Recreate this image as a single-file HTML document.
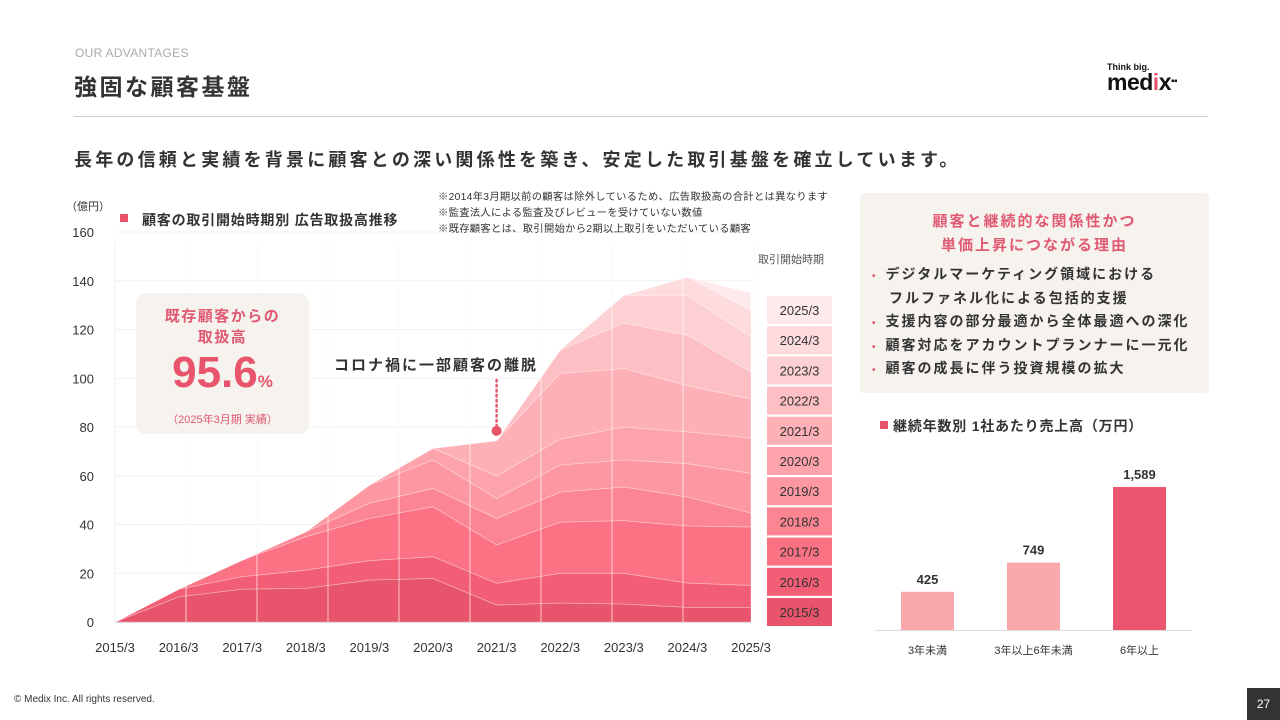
<!DOCTYPE html>
<html><head><meta charset="utf-8">
<style>
body{margin:0;width:1280px;height:720px;background:#fff;font-family:"Liberation Sans","Noto Sans CJK JP",sans-serif;overflow:hidden;position:relative;color:#333}
.a{position:absolute;white-space:nowrap}
.li{height:23.5px;line-height:23.5px}
</style></head><body>
<div class="a" style="left:75px;top:46px;font-size:12px;color:#aaa;letter-spacing:0.3px">OUR ADVANTAGES</div>
<div class="a" style="left:74px;top:68px;font-size:23px;font-weight:bold;letter-spacing:2.5px;color:#333">強固な顧客基盤</div>
<div class="a" style="left:1107px;top:62px;">
  <div style="font-size:9px;font-weight:bold;color:#111">Think big.</div>
  <div style="font-size:23px;font-weight:900;color:#111;line-height:20px;letter-spacing:-0.5px">med<span style="color:#e8546b">i</span>x<span style="font-size:10px;vertical-align:top">▪▪</span></div>
</div>
<div class="a" style="left:74px;top:116px;width:1134px;height:1px;background:#ccc"></div>
<div class="a" style="left:74px;top:146px;font-size:18px;font-weight:bold;letter-spacing:3.2px;color:#333">長年の信頼と実績を背景に顧客との深い関係性を築き、安定した取引基盤を確立しています。</div>

<svg class="a" style="left:0;top:0" width="1280" height="720" id="chart"></svg>

<div class="a" style="left:860px;top:193px;width:349px;height:200px;background:#f6f2ee;border-radius:4px"></div>
<div class="a" style="left:860px;top:210px;width:349px;text-align:center;font-size:15px;font-weight:bold;color:#e05a72;letter-spacing:2px;line-height:24px">顧客と継続的な関係性かつ<br>単価上昇につながる理由</div>
<div class="a" style="left:872px;top:263px;font-size:14px;font-weight:bold;color:#333;letter-spacing:2px">
<div class="li"><span style="color:#e05a72;font-size:10px;margin-right:8px">•</span>デジタルマーケティング領域における</div>
<div class="li" style="padding-left:17px">フルファネル化による包括的支援</div>
<div class="li"><span style="color:#e05a72;font-size:10px;margin-right:8px">•</span>支援内容の部分最適から全体最適への深化</div>
<div class="li"><span style="color:#e05a72;font-size:10px;margin-right:8px">•</span>顧客対応をアカウントプランナーに一元化</div>
<div class="li"><span style="color:#e05a72;font-size:10px;margin-right:8px">•</span>顧客の成長に伴う投資規模の拡大</div>
</div>

<div class="a" style="left:136px;top:293px;width:173px;height:141px;background:#f6f2ee;border-radius:10px;text-align:center">
 <div style="margin-top:13px;font-size:15px;font-weight:bold;color:#e05a72;letter-spacing:1.5px;line-height:21px">既存顧客からの<br>取扱高</div>
 <div style="font-size:44px;font-weight:bold;color:#e8546b;line-height:50px">95.6<span style="font-size:17px">%</span></div>
 <div style="font-size:11px;color:#e05a72;margin-top:4px">（2025年3月期 実績）</div>
</div>

<div class="a" style="left:14px;top:694px;font-size:10px;color:#333">© Medix Inc. All rights reserved.</div>
<div class="a" style="left:1247px;top:688px;width:33px;height:32px;background:#333;color:#fff;font-size:12px;text-align:center;line-height:32px">27</div>

<script>
const years=["2015/3","2016/3","2017/3","2018/3","2019/3","2020/3","2021/3","2022/3","2023/3","2024/3","2025/3"];
const yTicks=[0,20,40,60,80,100,120,140,160];
const c2015=[0,10.3,13.5,13.8,17.2,17.9,7,7.8,7.4,6,6];
const c2016=[0,3.2,5.1,7.5,8,8.9,8.9,12.2,12.6,10,9];
const c2017=[0,0,6.8,13.7,17.3,20.5,15.7,21,21.6,23.4,24];
const c2018=[0,0,0,2,6.2,7.5,10.9,12.3,13.8,11.9,5.7];
const c2019=[0,0,0,0,7.5,11.7,8.2,11.1,11.1,13.7,16.3];
const c2020=[0,0,0,0,0,4.8,9.2,10.6,13.5,13,14.5];
const c2021=[0,0,0,0,0,0,14.5,27,24,19,16];
const c2022=[0,0,0,0,0,0,0,9.6,18.6,20.7,11.1];
const c2023=[0,0,0,0,0,0,0,0,11.4,16.3,14.4];
const c2024=[0,0,0,0,0,0,0,0,0,7.5,11];
const c2025=[0,0,0,0,0,0,0,0,0,0,7];
const cohorts=[c2015,c2016,c2017,c2018,c2019,c2020,c2021,c2022,c2023,c2024,c2025];
const cohortColors=["#e8546b","#f25e76","#fa7283","#fc8593","#fd97a1","#fda3ab","#fdb1b7","#fdbfc3","#fdd0d3","#fedcde","#feeaeb"];
const barCats=["3年未満","3年以上6年未満","6年以上"];
const barVals=[425,749,1589];
const barLabels=["425","749","1,589"];

const NS="http://www.w3.org/2000/svg";
const svg=document.getElementById('chart');
function el(t,a,p){const e=document.createElementNS(NS,t);for(const k in a)e.setAttribute(k,a[k]);(p||svg).appendChild(e);return e;}
const X=i=>115+i*63.6;
const Y=v=>622-v*2.4375;
const F='"Liberation Sans","Noto Sans CJK JP",sans-serif';

yTicks.forEach(v=>{
  const g=el('line',{x1:115,x2:751,y1:Y(v),y2:Y(v),stroke:'#f1f1f1','stroke-width':1});
  
  
  const t=el('text',{x:94,y:Y(v)+5,'text-anchor':'end','font-size':13,fill:'#333','font-family':F});
  t.textContent=v;
  
  
});
for(let i=0;i<10;i++){
  const g=el('line',{x1:115+i*71,x2:115+i*71,y1:242,y2:622,stroke:'#f1f1f1','stroke-width':1});
  
  
}
const cum=years.map(()=>0);
cohorts.forEach((s,k)=>{
  const lower=cum.slice();
  s.forEach((v,i)=>cum[i]+=v);
  let d='M'+X(0)+','+Y(cum[0]);
  for(let i=1;i<years.length;i++)d+=' L'+X(i)+','+Y(cum[i]);
  for(let i=years.length-1;i>=0;i--)d+=' L'+X(i)+','+Y(lower[i]);
  const p=el('path',{d:d+'Z',fill:cohortColors[k],stroke:'rgba(255,255,255,0.35)','stroke-width':0.8});
  
  
});
for(let i=1;i<10;i++){
  const g=el('line',{x1:115+i*71,x2:115+i*71,y1:242,y2:622,stroke:'rgba(255,255,255,0.55)','stroke-width':1.2});
  
  
}
el('line',{x1:115,x2:751,y1:622.5,y2:622.5,stroke:'#ddd','stroke-width':1});
years.forEach((y,i)=>{
  const t=el('text',{x:X(i),y:652,'text-anchor':'middle','font-size':13,fill:'#333','font-family':F});
  t.textContent=y;
  
  
});
const dv=cum[6];
el('line',{x1:X(6),x2:X(6),y1:380,y2:Y(dv)-8,stroke:'#e05a72','stroke-width':2.5,'stroke-dasharray':'1.5 3.5','stroke-linecap':'round'});
const dot=el('circle',{cx:X(6),cy:Y(dv+4),r:5,fill:'#e8546b'});


const at=el('text',{x:334,y:370,'font-size':15,'font-weight':'bold',fill:'#333','font-family':F,'letter-spacing':2});
at.textContent='コロナ禍に一部顧客の離脱';


function txt(x,y,s,o,name){const t=el('text',Object.assign({x:x,y:y,'font-family':F,fill:'#333'},o));t.textContent=s;return t;}
txt(66,210,'（億円）',{'font-size':11},'y-axis-unit');
el('rect',{x:120,y:214,width:8,height:8,fill:'#e8546b'});
txt(142,225,'顧客の取引開始時期別 広告取扱高推移',{'font-size':14,'font-weight':'bold','letter-spacing':0.8},'chart-title');
txt(438,200,'※2014年3月期以前の顧客は除外しているため、広告取扱高の合計とは異なります',{'font-size':10.3,'letter-spacing':0.3},'note-1');
txt(438,216,'※監査法人による監査及びレビューを受けていない数値',{'font-size':10.3,'letter-spacing':0.3},'note-2');
txt(438,232,'※既存顧客とは、取引開始から2期以上取引をいただいている顧客',{'font-size':10.3,'letter-spacing':0.3},'note-3');
txt(758,263,'取引開始時期',{'font-size':11,fill:'#555'},'legend-title');
for(let k=10;k>=0;k--){
  const row=10-k, y=296+row*30.2;
  const r=el('rect',{x:767,y:y,width:65,height:28,fill:cohortColors[k]});
  
  
  txt(799.5,y+19,years[k],{'font-size':13,'text-anchor':'middle',fill:'#333'},'legend-entry');
}
el('rect',{x:880,y:421,width:8,height:8,fill:'#e8546b'});
txt(893,431,'継続年数別 1社あたり売上高（万円）',{'font-size':14,'font-weight':'bold','letter-spacing':0.8},'bar-chart-title');
const BY=v=>630-v*0.09;
barVals.forEach((v,i)=>{
  const cx=927.5+i*106;
  const r=el('rect',{x:cx-26.5,y:BY(v),width:53,height:630-BY(v),fill:i==2?'#ea5570':'#f9a9ab'});
  
  
  txt(cx,BY(v)-8,barLabels[i],{'font-size':13,'font-weight':'bold','text-anchor':'middle'},'bar-value-label');
  txt(cx,654,barCats[i],{'font-size':11,'text-anchor':'middle'},'bar-category-label');
});
el('line',{x1:875,x2:1192,y1:630.5,y2:630.5,stroke:'#ddd','stroke-width':1});
</script>
</body></html>
